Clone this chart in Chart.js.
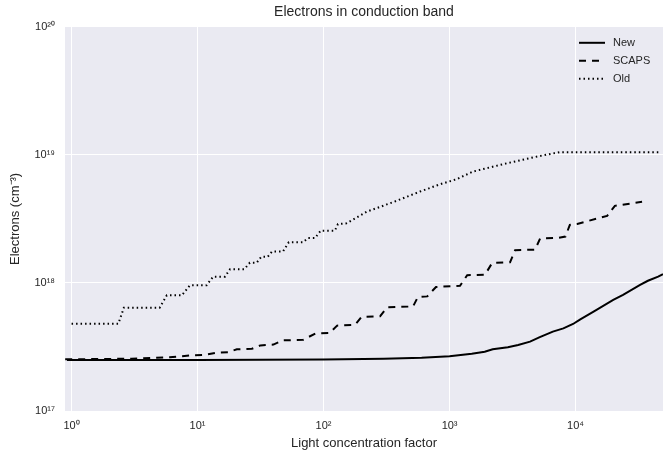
<!DOCTYPE html>
<html>
<head>
<meta charset="utf-8">
<script src="https://cdn.jsdelivr.net/npm/chart.js@4.4.0/dist/chart.umd.min.js"></script>
<style>
  html, body { margin: 0; padding: 0; background: #fff; }
</style>
</head>
<body>
<canvas id="electronsChart" width="665" height="459"></canvas>
<script>
// light concentration (suns) vs electron density, three models
const newX = [0.92, 10, 100, 300, 600, 1000, 1500, 1900, 2200, 2900, 3500, 4350, 5200, 6600, 8000, 9550, 10900, 14000, 19900, 23800, 32500, 37500, 45200, 49400];
const newY = [2.5e17, 2.5e17, 2.52e17, 2.56e17, 2.61e17, 2.68e17, 2.8e17, 2.9e17, 3.03e17, 3.15e17, 3.28e17, 3.48e17, 3.77e17, 4.17e17, 4.42e17, 4.78e17, 5.2e17, 6.0e17, 7.36e17, 8.06e17, 9.64e17, 1.04e18, 1.12e18, 1.17e18];

const scapsX = [0.89, 3, 6, 9, 11.5, 14, 17.5, 20.5, 27, 31.5, 40, 47, 69, 86, 112, 128, 178, 200, 281, 320, 513, 560, 665, 780, 1210, 1380, 1910, 2175, 3020, 3310, 4770, 5225, 7260, 8300, 9000, 10300, 17800, 20500, 33700];
const scapsY = [2.53e17, 2.56e17, 2.63e17, 2.72e17, 2.75e17, 2.85e17, 2.88e17, 3.03e17, 3.06e17, 3.25e17, 3.3e17, 3.56e17, 3.6e17, 4.03e17, 4.07e17, 4.64e17, 4.72e17, 5.42e17, 5.5e17, 6.45e17, 6.55e17, 7.75e17, 7.85e17, 9.3e17, 9.5e17, 1.15e18, 1.16e18, 1.43e18, 1.45e18, 1.8e18, 1.82e18, 2.22e18, 2.25e18, 2.3e18, 2.84e18, 2.89e18, 3.34e18, 4.0e18, 4.3e18];

const oldX = [1, 2.35, 2.6, 5.0, 5.7, 7.5, 8.7, 11.8, 13.3, 16.5, 18.1, 23.5, 26, 29.5, 32, 36, 39, 47.6, 53, 68.8, 75, 85.5, 95, 123, 130, 152, 220, 356, 583, 841, 1140, 1530, 2850, 5200, 7500, 46000];
const oldY = [4.8e17, 4.8e17, 6.4e17, 6.4e17, 8.0e17, 8.0e17, 9.6e17, 9.6e17, 1.12e18, 1.12e18, 1.28e18, 1.28e18, 1.44e18, 1.44e18, 1.6e18, 1.6e18, 1.76e18, 1.76e18, 2.08e18, 2.08e18, 2.24e18, 2.24e18, 2.56e18, 2.56e18, 2.88e18, 2.92e18, 3.6e18, 4.27e18, 5.17e18, 5.9e18, 6.46e18, 7.4e18, 8.6e18, 9.8e18, 1.05e19, 1.05e19];

const xTicks = [1, 10, 100, 1000, 10000];
const xTickLabels = ['10⁰', '10¹', '10²', '10³', '10⁴'];
const yTicks = [1e17, 1e18, 1e19, 1e20];
const yTickLabels = ['10¹⁷', '10¹⁸', '10¹⁹', '10²⁰'];

const FONT = '"Liberation Sans", Arial, sans-serif';
const TEXT = '#262626';

Chart.defaults.font.family = FONT;
Chart.defaults.color = TEXT;

const toPoints = (xs, ys) => xs.map((x, i) => ({ x, y: ys[i] }));

// grey panel behind the plot, seaborn style
const plotBackground = {
  id: 'plotBackground',
  beforeDraw(chart) {
    const { ctx, chartArea: a } = chart;
    ctx.save();
    ctx.fillStyle = '#EAEAF2';
    ctx.fillRect(a.left, a.top, a.right - a.left, a.bottom - a.top);
    ctx.restore();
  }
};

// frameless legend inside the top right corner
const lineLegend = {
  id: 'lineLegend',
  afterDatasetsDraw(chart) {
    const { ctx, chartArea: a } = chart;
    ctx.save();
    ctx.font = '11px ' + FONT;
    ctx.textBaseline = 'middle';
    chart.data.datasets.forEach((ds, i) => {
      const y = a.top + 16 + i * 18;
      ctx.strokeStyle = ds.borderColor;
      ctx.lineWidth = ds.borderWidth;
      ctx.setLineDash(ds.borderDash || []);
      ctx.beginPath();
      ctx.moveTo(a.right - 84, y);
      ctx.lineTo(a.right - 58, y);
      ctx.stroke();
      ctx.setLineDash([]);
      ctx.fillStyle = TEXT;
      ctx.fillText(ds.label, a.right - 50, y);
    });
    ctx.restore();
  }
};

new Chart(document.getElementById('electronsChart'), {
  type: 'line',
  data: {
    datasets: [
      { label: 'New', data: toPoints(newX, newY), borderColor: '#000', borderWidth: 2, borderDash: [] },
      { label: 'SCAPS', data: toPoints(scapsX, scapsY), borderColor: '#000', borderWidth: 2, borderDash: [7, 6] },
      { label: 'Old', data: toPoints(oldX, oldY), borderColor: '#000', borderWidth: 2, borderDash: [1.5, 3] }
    ]
  },
  options: {
    responsive: false,
    animation: false,
    parsing: false,
    elements: { point: { radius: 0 }, line: { tension: 0, fill: false } },
    layout: { padding: { top: 0, right: 2, bottom: 0, left: 0 } },
    scales: {
      x: {
        type: 'logarithmic',
        min: 0.887,
        max: 49400,
        afterBuildTicks: axis => { axis.ticks = xTicks.map(v => ({ value: v })); },
        afterFit: axis => { axis.height = 48; },
        grid: { color: '#fff', lineWidth: 1, drawTicks: false },
        border: { display: false },
        ticks: {
          autoSkip: false, maxRotation: 0, padding: 8,
          font: { size: 11 },
          callback: (v, i) => xTickLabels[i]
        },
        title: { display: true, text: 'Light concentration factor', font: { size: 13 }, padding: { top: 0, bottom: 8 } }
      },
      y: {
        type: 'logarithmic',
        min: 1e17,
        max: 1e20,
        afterBuildTicks: axis => { axis.ticks = yTicks.map(v => ({ value: v })); },
        afterFit: axis => { axis.width = 65; },
        grid: { color: '#fff', lineWidth: 1, drawTicks: false },
        border: { display: false },
        ticks: {
          autoSkip: false, padding: 10,
          font: { size: 11 },
          callback: (v, i) => yTickLabels[i]
        },
        title: { display: true, text: 'Electrons (cm⁻³)', font: { size: 13 }, padding: { top: 8, bottom: 0 } }
      }
    },
    plugins: {
      legend: { display: false },
      tooltip: { enabled: false },
      title: {
        display: true,
        fullSize: false,
        text: 'Electrons in conduction band',
        font: { size: 14, weight: 'normal' },
        color: TEXT,
        padding: { top: 4, bottom: 6 }
      }
    }
  },
  plugins: [plotBackground, lineLegend]
});
</script>
</body>
</html>
